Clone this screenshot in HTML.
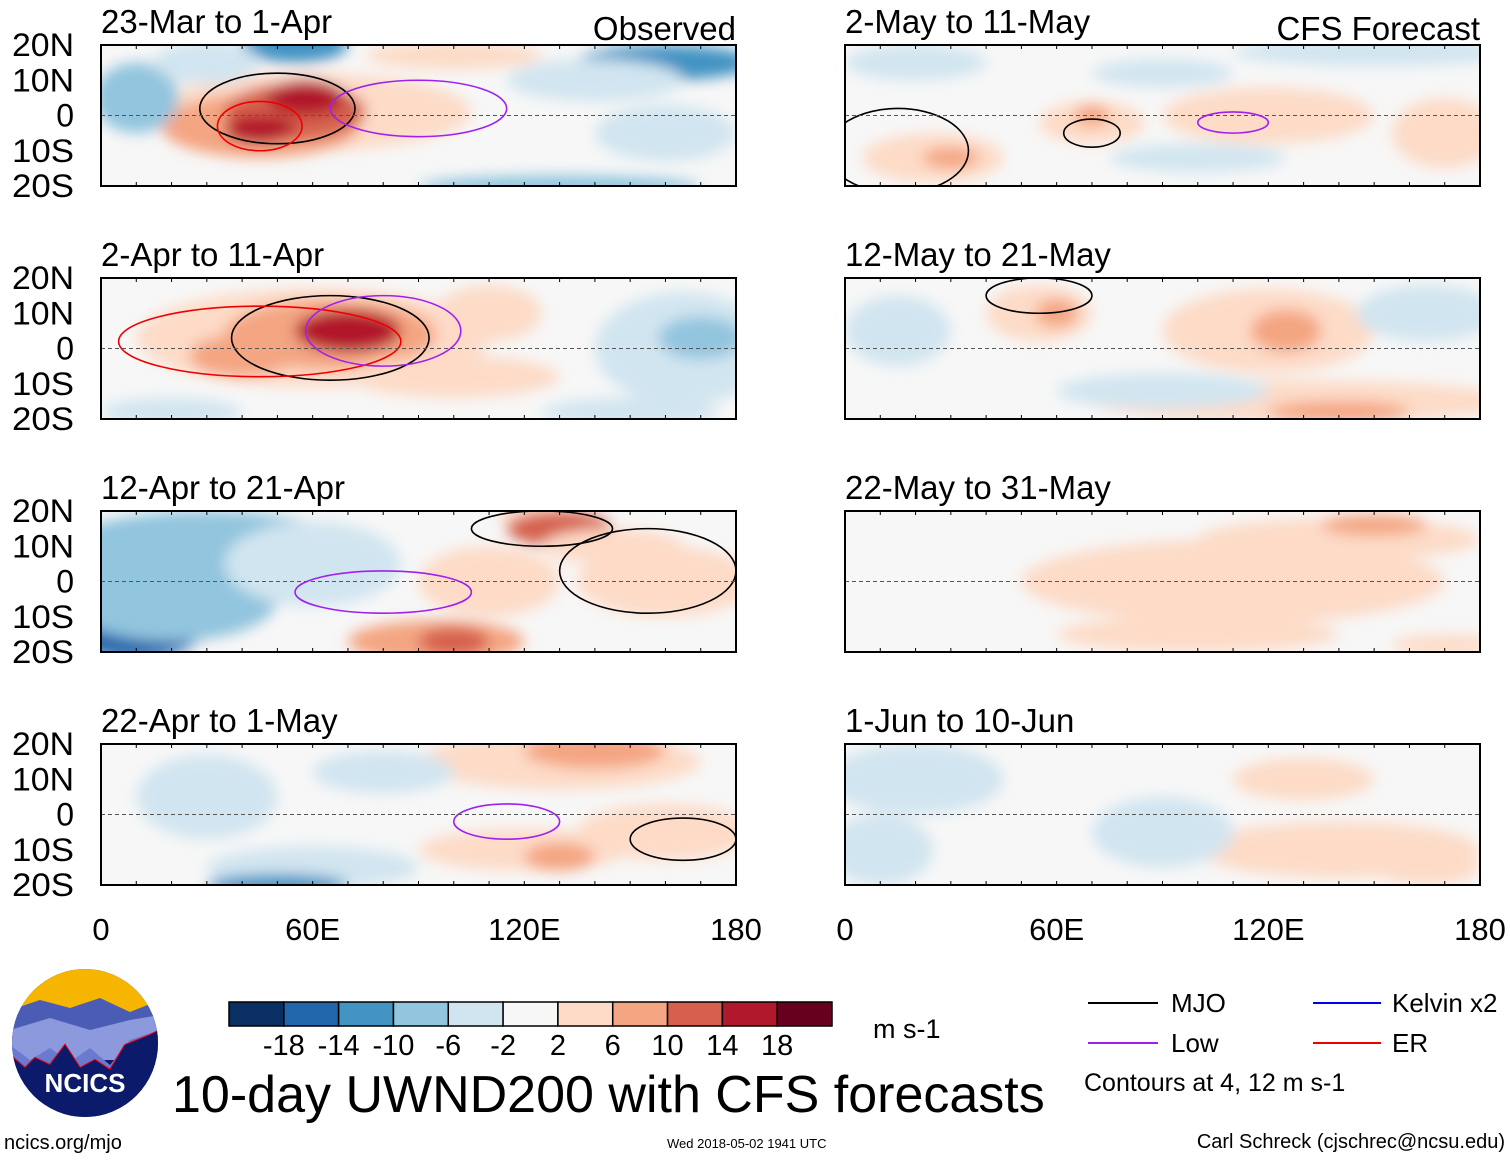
<!DOCTYPE html>
<html><head><meta charset="utf-8">
<style>
body{margin:0;background:#fff;font-family:"Liberation Sans",sans-serif;}
svg text{font-family:"Liberation Sans",sans-serif;}
</style></head>
<body>
<svg id="chart" width="1510" height="1158" viewBox="0 0 1510 1158" xmlns="http://www.w3.org/2000/svg">
<defs>
<filter id="blur" x="-50%" y="-50%" width="200%" height="200%"><feGaussianBlur stdDeviation="7"/></filter>
</defs>
<g id="panels"></g>
<g id="colorbar"></g>
<text x="873" y="1038" font-size="27">m s-1</text>
<text x="172" y="1112" font-size="52">10-day UWND200 with CFS forecasts</text>
<text x="4" y="1149" font-size="20">ncics.org/mjo</text>
<text x="667" y="1148" font-size="13">Wed 2018-05-02 1941 UTC</text>
<text x="1505" y="1148" font-size="20" text-anchor="end">Carl Schreck (cjschrec@ncsu.edu)</text>
<g>
<line x1="1088" y1="1003" x2="1158" y2="1003" stroke="#000" stroke-width="2"/>
<text x="1171" y="1012" font-size="26">MJO</text>
<line x1="1313" y1="1003" x2="1381" y2="1003" stroke="#0000ee" stroke-width="2"/>
<text x="1392" y="1012" font-size="26">Kelvin x2</text>
<line x1="1088" y1="1043" x2="1158" y2="1043" stroke="#a020f0" stroke-width="2"/>
<text x="1171" y="1052" font-size="26">Low</text>
<line x1="1313" y1="1043" x2="1381" y2="1043" stroke="#ee0000" stroke-width="2"/>
<text x="1392" y="1052" font-size="26">ER</text>
<text x="1084" y="1091" font-size="25">Contours at 4, 12 m s-1</text>
</g>
<g>
<clipPath id="lc"><ellipse cx="85" cy="1043" rx="73" ry="74"/></clipPath>
<g clip-path="url(#lc)">
<rect x="10" y="968" width="150" height="150" fill="#0b1a6b"/>
<rect x="10" y="968" width="150" height="45" fill="#f6b500"/>
<path d="M10 1010 L40 1000 L70 1008 L100 998 L130 1012 L160 1000 L160 1040 L10 1040Z" fill="#4b5cb5"/>
<path d="M10 1030 L50 1018 L90 1030 L130 1020 L160 1015 L160 1060 L10 1060Z" fill="#8c99dd"/>
<path d="M10 1045 L30 1060 L50 1048 L70 1062 L90 1048 L110 1065 L130 1040 L160 1030 L160 1075 L10 1075Z" fill="#6a7ad0"/>
<path d="M10 1055 L25 1068 L35 1058 L50 1065 L65 1045 L80 1068 L95 1060 L110 1070 L125 1045 L150 1035 L160 1030" fill="none" stroke="#e00" stroke-width="2"/>
<path d="M10 1055 L25 1068 L35 1058 L50 1065 L65 1045 L80 1068 L95 1060 L110 1070 L125 1045 L150 1035 L160 1030 L160 1118 L10 1118Z" fill="#0b1a6b"/>
</g>
<text x="85" y="1092" font-size="26" font-weight="bold" fill="#fff" text-anchor="middle">NCICS</text>
</g>
</svg>
<script>
const levels=[-18,-14,-10,-6,-2,2,6,10,14,18];
const colors=["#0a2f63","#2266ac","#4393c3","#92c5de","#d1e5f0","#f7f7f7","#fddbc7","#f4a582","#d6604d","#b2182b","#67001f"];
const panelTitles=["23-Mar to 1-Apr","2-Apr to 11-Apr","12-Apr to 21-Apr","22-Apr to 1-May","2-May to 11-May","12-May to 21-May","22-May to 31-May","1-Jun to 10-Jun"];
const latTicks=["20N","10N","0","10S","20S"];
const latVals=[20,10,0,-10,-20];
const lonTicks=["0","60E","120E","180"];
const lonVals=[0,60,120,180];
// anomaly blobs per panel: [lon, lat, rxDeg, ryDeg, value]
const blobs=[
[[60,1,45,11,4],[45,-3,28,9,9],[55,1,20,8,13],[58,5,11,5,18],[45,-4,10,4,18],[100,17,25,4,4],[55,20,15,5,-10],[160,15,25,5,-12],[140,10,25,6,-4],[130,-20,40,3,-9],[10,5,12,10,-6],[160,-5,20,8,-3],[30,15,15,6,-4]],
[[60,3,50,14,5],[65,4,30,10,10],[70,5,15,6,16],[40,-2,15,6,8],[165,0,25,16,-4],[170,3,12,6,-7],[110,10,15,8,3],[20,-18,20,4,-5],[150,-18,25,4,-5],[100,-8,30,6,3]],
[[10,-12,20,10,-14],[30,10,40,10,-6],[20,-5,30,12,-7],[60,5,25,12,-4],[125,18,12,4,5],[130,15,15,5,11],[95,-17,25,6,7],[100,-17,10,4,11],[160,0,25,10,3],[145,10,20,5,3],[110,0,20,10,2.5]],
[[60,-15,30,6,-5],[50,-20,20,3,-10],[130,15,40,8,4],[140,18,20,5,7],[120,-10,30,6,4],[130,-12,10,4,8],[30,5,20,12,-4],[160,-5,25,8,3],[80,12,20,6,-3]],
[[25,-12,20,7,6],[30,-12,8,3,9],[70,-2,15,6,5],[70,0,5,3,8],[120,0,30,8,3],[150,18,40,4,-5],[20,15,20,5,-5],[90,12,20,4,-3],[170,-5,15,10,4],[100,-12,25,4,-3]],
[[55,10,15,8,5],[60,10,6,4,8],[120,5,30,12,4],[125,5,10,6,7],[130,-15,60,6,4],[140,-18,20,3,7],[15,5,15,10,-4],[165,10,20,8,-5],[90,-12,30,5,-2]],
[[140,12,40,6,4],[150,16,15,3,7],[110,0,60,12,3],[100,-15,40,5,3],[170,-18,15,3,6]],
[[140,-10,40,8,3],[165,-15,15,5,6],[130,10,20,6,4],[20,10,25,10,-4],[10,-10,15,10,-3],[90,-5,20,10,-2]]
];
// contours per panel: [lon, lat, rxDeg, ryDeg, colour]
const contours=[
[[50,2,22,10,"#000"],[45,-3,12,7,"#e00"],[90,2,25,8,"#a020f0"]],
[[65,3,28,12,"#000"],[45,2,40,10,"#e00"],[80,5,22,10,"#a020f0"]],
[[125,15,20,5,"#000"],[80,-3,25,6,"#a020f0"],[155,3,25,12,"#000"]],
[[115,-2,15,5,"#a020f0"],[165,-7,15,6,"#000"]],
[[15,-10,20,12,"#000"],[70,-5,8,4,"#000"],[110,-2,10,3,"#a020f0"]],
[[55,15,15,5,"#000"]],
[],
[]
];
function colorFor(v){let i=0;while(i<levels.length&&v>levels[i])i++;return colors[i];}
const NS="http://www.w3.org/2000/svg";
const P=document.getElementById('panels');
function mk(t,a,p){const e=document.createElementNS(NS,t);for(const k in a)e.setAttribute(k,a[k]);p.appendChild(e);return e;}
const W=635,H=141;
for(let p=0;p<8;p++){
  const col=p<4?0:1,row=p%4;
  const x0=col?845:101,y0=45+row*233;
  const xs=lon=>x0+lon/180*W, ys=lat=>y0+(20-lat)/40*H;
  const g=mk('g',{},P);
  
  
  const cp=mk('clipPath',{id:'c'+p},g);mk('rect',{x:x0,y:y0,width:W,height:H},cp);
  const inner=mk('g',{'clip-path':'url(#c'+p+')'},g);
  mk('rect',{x:x0,y:y0,width:W,height:H,fill:'#f7f7f7'},inner);
  const bg=mk('g',{filter:'url(#blur)'},inner);
  blobs[p].forEach(b=>{
    const e=mk('ellipse',{cx:xs(b[0]),cy:ys(b[1]),rx:b[2]/180*W,ry:b[3]/40*H,fill:colorFor(b[4])},bg);
    
    
  });
  contours[p].forEach(c=>{
    const e=mk('ellipse',{cx:xs(c[0]),cy:ys(c[1]),rx:c[2]/180*W,ry:c[3]/40*H,fill:'none',stroke:c[4],'stroke-width':1.6},inner);
    
    
  });
  mk('line',{x1:x0,y1:ys(0),x2:x0+W,y2:ys(0),stroke:'#555','stroke-dasharray':'4,3','stroke-width':1},inner);
  mk('rect',{x:x0,y:y0,width:W,height:H,fill:'none',stroke:'#000','stroke-width':2},g);
  for(let l=0;l<=180;l+=10){mk('line',{x1:xs(l),y1:y0,x2:xs(l),y2:y0+4,stroke:'#000'},g);mk('line',{x1:xs(l),y1:y0+H,x2:xs(l),y2:y0+H-4,stroke:'#000'},g);}
  const t=mk('text',{x:x0,y:y0-12,'font-size':33},g);t.textContent=panelTitles[p];
  
  
  if(p===0){const o=mk('text',{x:x0+W,y:y0-5,'font-size':33,'text-anchor':'end'},g);o.textContent='Observed';}
  if(p===4){const o=mk('text',{x:x0+W,y:y0-5,'font-size':33,'text-anchor':'end'},g);o.textContent='CFS Forecast';}
  if(col===0){latVals.forEach((v,i)=>{const tt=mk('text',{x:74,y:ys(v)+11,'font-size':32,'text-anchor':'end',textLength:v===0?null:62,lengthAdjust:'spacingAndGlyphs'},g);
    if(v===0)tt.removeAttribute('textLength');
    tt.textContent=latTicks[i];
    
    });}
  if(row===3){lonVals.forEach((v,i)=>{const tt=mk('text',{x:xs(v),y:940,'font-size':31,'text-anchor':'middle'},g);tt.textContent=lonTicks[i];
    
    });}
}
const CB=document.getElementById('colorbar');
const bx=229,bw=(832-229)/colors.length;
colors.forEach((c,i)=>{const r=mk('rect',{x:bx+i*bw,y:1002,width:bw,height:24,fill:c,stroke:'#000','stroke-width':1.5},CB);
  
  });
levels.forEach((v,i)=>{const t=mk('text',{x:bx+(i+1)*bw,y:1055,'font-size':29,'text-anchor':'middle'},CB);t.textContent=v;
  
  });
</script>
</body></html>
